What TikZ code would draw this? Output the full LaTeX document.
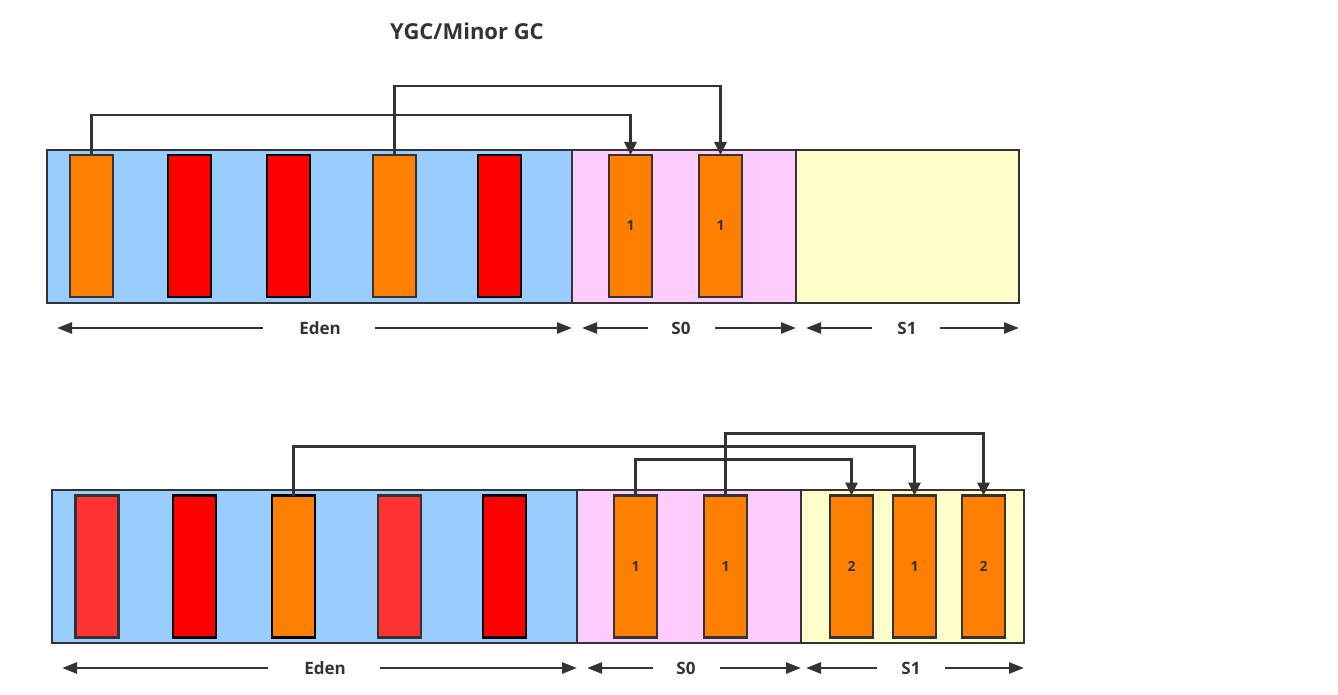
\documentclass[tikz,border=0pt]{standalone}
\usepackage{fontspec}
\setmainfont{Open Sans}
\usetikzlibrary{arrows.meta}
\definecolor{edenblue}{HTML}{99CCFF}
\definecolor{szeropink}{HTML}{FFCCFF}
\definecolor{sonecream}{HTML}{FFFFCC}
\definecolor{objorange}{HTML}{FF8000}
\definecolor{objred}{HTML}{FF0000}
\definecolor{objpink}{HTML}{FF3333}
\definecolor{linegray}{HTML}{333333}
\tikzset{
  region/.style={draw=linegray,line width=2.8pt,minimum height=153pt,inner sep=0pt,outer sep=0pt},
  obj/.style={draw=linegray,line width=2.8pt,minimum width=43pt,minimum height=142pt,inner sep=0pt,outer sep=0pt,
    font=\fontsize{14}{16}\selectfont\bfseries,text=linegray},
  live/.style={obj,fill=objorange},
  dead/.style={obj,fill=objred,draw=black},
  gone/.style={obj,fill=objpink},
  conn/.style={draw=linegray,line width=2.8pt,-{Triangle[length=13pt,width=12pt]}},
  span/.style={draw=linegray,line width=2.6pt,-{Triangle[length=15pt,width=11pt]}},
  spanlabel/.style={font=\fontsize{17}{19}\selectfont\bfseries,text=linegray}
}
\begin{document}
\begin{tikzpicture}[x=1pt,y=-1pt]
\useasboundingbox (0,0) rectangle (1338,695);
\node[font=\fontsize{22}{25}\selectfont\bfseries,text=linegray] (title) at (467,31) {YGC/Minor GC};
% antes del GC: eden, S0, S1
\node[region,fill=edenblue,minimum width=525pt] (edenA) at (309.5,226.5) {};
\node[region,fill=szeropink,minimum width=224pt] (szeroA) at (684,226.5) {};
\node[region,fill=sonecream,minimum width=223pt] (soneA) at (907.5,226.5) {};
\node[live] (a1) at (91.5,226) {};
\node[dead] (a2) at (189.5,226) {};
\node[dead] (a3) at (288.5,226) {};
\node[live] (a4) at (394.5,226) {};
\node[dead] (a5) at (499.5,226) {};
\node[live] (a6) at (630.5,226) {1};
\node[live] (a7) at (720.5,226) {1};
\draw[conn] (a1.north) -- ++(0,-40) -| (a6.north);
\draw[conn] (a4.north) -- ++(0,-69) -| (a7.north);
% cotas
\node[spanlabel] (edenlblA) at (320,328) {Eden};
\node[spanlabel] (szerolblA) at (681,328) {S0};
\node[spanlabel] (sonelblA) at (907,328) {S1};
\draw[span] ([xshift=-57pt]edenlblA.center) -- ([xshift=10pt]edenlblA.center -| edenA.west);
\draw[span] ([xshift=55pt]edenlblA.center) -- (edenlblA.center -| edenA.east);
\draw[span] ([xshift=-33pt]szerolblA.center) -- ([xshift=10pt]szerolblA.center -| szeroA.west);
\draw[span] ([xshift=34pt]szerolblA.center) -- (szerolblA.center -| szeroA.east);
\draw[span] ([xshift=-35pt]sonelblA.center) -- ([xshift=10pt]sonelblA.center -| soneA.west);
\draw[span] ([xshift=33pt]sonelblA.center) -- (sonelblA.center -| soneA.east);
% despues del GC
\node[region,fill=edenblue,minimum width=525pt] (edenB) at (314.5,566.5) {};
\node[region,fill=szeropink,minimum width=224pt] (szeroB) at (689,566.5) {};
\node[region,fill=sonecream,minimum width=223pt] (soneB) at (912.5,566.5) {};
\node[gone] (b1) at (97,566.5) {};
\node[dead] (b2) at (194.5,566.5) {};
\node[live,draw=black] (b3) at (293.5,566.5) {};
\node[gone] (b4) at (399.5,566.5) {};
\node[dead] (b5) at (504.5,566.5) {};
\node[live] (b6) at (635.5,566.5) {1};
\node[live] (b7) at (725.5,566.5) {1};
\node[live] (c1) at (851.5,566.5) {2};
\node[live] (c2) at (914.5,566.5) {1};
\node[live] (c3) at (983.5,566.5) {2};
\draw[conn] (b3.north) -- ++(0,-49) -| (c2.north);
\draw[conn] (b6.north) -- ++(0,-36) -| (c1.north);
\draw[conn] (b7.north) -- ++(0,-62) -| (c3.north);
% cotas
\node[spanlabel] (edenlblB) at (325,668) {Eden};
\node[spanlabel] (szerolblB) at (686,668) {S0};
\node[spanlabel] (sonelblB) at (911,668) {S1};
\draw[span] ([xshift=-57pt]edenlblB.center) -- ([xshift=10pt]edenlblB.center -| edenB.west);
\draw[span] ([xshift=55pt]edenlblB.center) -- (edenlblB.center -| edenB.east);
\draw[span] ([xshift=-33pt]szerolblB.center) -- ([xshift=10pt]szerolblB.center -| szeroB.west);
\draw[span] ([xshift=34pt]szerolblB.center) -- (szerolblB.center -| szeroB.east);
\draw[span] ([xshift=-34pt]sonelblB.center) -- ([xshift=5pt]sonelblB.center -| soneB.west);
\draw[span] ([xshift=34pt]sonelblB.center) -- (sonelblB.center -| soneB.east);
\end{tikzpicture}
\end{document}
